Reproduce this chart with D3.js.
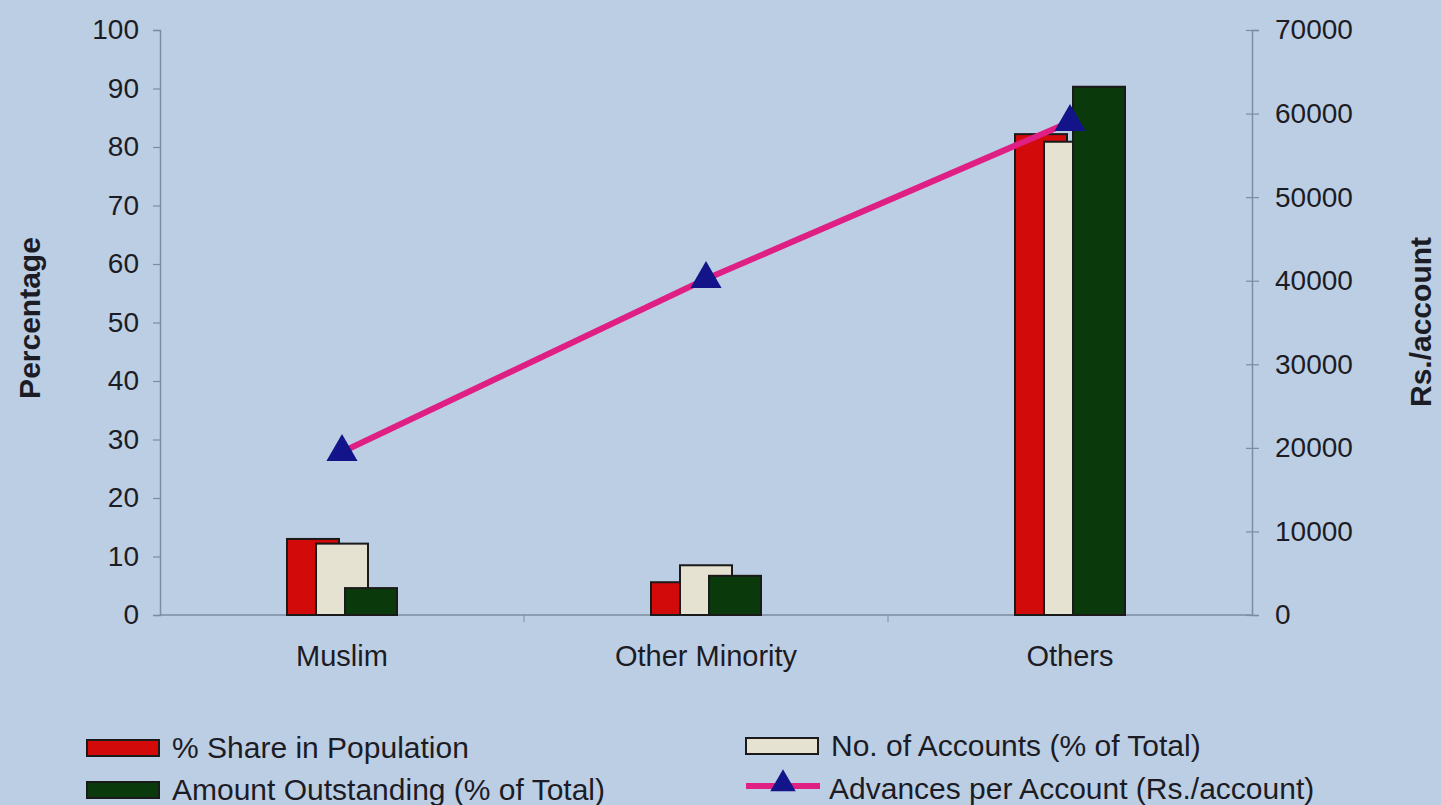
<!DOCTYPE html>
<html>
<head>
<meta charset="utf-8">
<script src="https://cdn.jsdelivr.net/npm/d3@7"></script>
<style>
  html, body { margin: 0; padding: 0; background: #bccee4; }
  svg { display: block; }
  text { font-family: "Liberation Sans", Arial, sans-serif; fill: #1c1c24; }
</style>
</head>
<body>
<svg id="chart" width="1441" height="805"></svg>
<script>
// ---- data ----
const categories = ["Muslim", "Other Minority", "Others"];
const sharePopulation = [13.0, 5.6, 82.2];
const noAccounts = [12.2, 8.5, 80.9];
const amountOutstanding = [4.6, 6.7, 90.3];
const advancesPerAccount = [19500, 40200, 59000];
const leftTicks = [0, 10, 20, 30, 40, 50, 60, 70, 80, 90, 100];
const rightTicks = [0, 10000, 20000, 30000, 40000, 50000, 60000, 70000];
const seriesNames = ["% Share in Population", "No. of Accounts (% of Total)", "Amount Outstanding (% of Total)", "Advances per Account (Rs./account)"];
const seriesColors = ["#d30a0a", "#e6e2d2", "#0a3a0c"];
const lineColor = "#df1f84";
const markerColor = "#13138a";

const svg = d3.select("#chart");
const W = 1441, H = 805;
svg.append("rect").attr("width", W).attr("height", H).attr("fill", "#bccee4");

const pLeft = 160, pRight = 1252, pTop = 30, pBottom = 615;
const x = d3.scaleBand().domain(categories).range([pLeft, pRight]).padding(0);
const yL = d3.scaleLinear().domain([0, 100]).range([pBottom, pTop]);
const yR = d3.scaleLinear().domain([0, 70000]).range([pBottom, pTop]);

const axisColor = "#7d8ca3";

// left axis
const gL = svg.append("g").attr("transform", `translate(${pLeft},0)`)
  .call(d3.axisLeft(yL).tickValues(leftTicks).tickSize(7).tickPadding(14));
// right axis
const gR = svg.append("g").attr("transform", `translate(${pRight},0)`)
  .call(d3.axisRight(yR).tickValues(rightTicks).tickFormat(d3.format("d")).tickSize(7).tickPadding(16));
gR.selectAll(".tick line").attr("x1", -6);
// bottom axis
const gB = svg.append("g").attr("transform", `translate(0,${pBottom})`)
  .call(d3.axisBottom(x).tickSize(0).tickPadding(30));
// category boundary ticks
svg.append("g").selectAll("line").data(categories.slice(1)).join("line")
  .attr("x1", d => x(d)).attr("x2", d => x(d))
  .attr("y1", pBottom).attr("y2", pBottom + 7)
  .attr("stroke", axisColor).attr("stroke-width", 1);

[gL, gR, gB].forEach(g => {
  g.selectAll(".domain").attr("stroke", axisColor).attr("stroke-width", 1.5);
  g.selectAll(".tick line").attr("stroke", axisColor).attr("stroke-width", 1.2);
  g.selectAll("text").attr("font-size", 28).attr("fill", "#1c1c24")
    .style("font-family", "'Liberation Sans', Arial, sans-serif");
});
gB.selectAll("text").attr("font-size", 29);
gB.select(".domain").attr("d", `M${pLeft},0H${pRight}`);

// axis titles
svg.append("text").attr("transform", `translate(40,318) rotate(-90)`)
  .attr("text-anchor", "middle").attr("font-size", 30).attr("font-weight", "bold")
  .text("Percentage");
svg.append("text").attr("transform", `translate(1431,322) rotate(-90)`)
  .attr("text-anchor", "middle").attr("font-size", 30).attr("font-weight", "bold")
  .text("Rs./account");

// bars
const barW = 52, barStep = 29;
const groupW = barW + 2 * barStep;
const barSeries = [sharePopulation, noAccounts, amountOutstanding];
barSeries.forEach((vals, si) => {
  svg.append("g").selectAll("rect").data(categories).join("rect")
    .attr("x", d => x(d) + x.bandwidth() / 2 - groupW / 2 + si * barStep)
    .attr("y", (d, i) => yL(vals[i]))
    .attr("width", barW)
    .attr("height", (d, i) => pBottom - yL(vals[i]))
    .attr("fill", seriesColors[si])
    .attr("stroke", "#1a1a1a").attr("stroke-width", 2);
});

// line
const line = d3.line()
  .x((d, i) => x(categories[i]) + x.bandwidth() / 2)
  .y(d => yR(d));
svg.append("path").datum(advancesPerAccount)
  .attr("d", line).attr("fill", "none")
  .attr("stroke", lineColor).attr("stroke-width", 6);
const tri = d3.symbol().type(d3.symbolTriangle).size(420);
svg.append("g").selectAll("path").data(advancesPerAccount).join("path")
  .attr("transform", (d, i) => `translate(${x(categories[i]) + x.bandwidth() / 2},${yR(d)})`)
  .attr("d", tri).attr("fill", markerColor);

// legend
const lg = svg.append("g");
const swatches = [
  { x: 87, y: 740, c: seriesColors[0], t: seriesNames[0] },
  { x: 746, y: 738, c: seriesColors[1], t: seriesNames[1] },
  { x: 87, y: 782, c: seriesColors[2], t: seriesNames[2] }
];
swatches.forEach(s => {
  lg.append("rect").attr("x", s.x).attr("y", s.y).attr("width", 72).attr("height", 16)
    .attr("fill", s.c).attr("stroke", "#1a1a1a").attr("stroke-width", 2);
  lg.append("text").attr("x", s.x + 85).attr("y", s.y + 18)
    .attr("font-size", 30).text(s.t);
});
lg.append("line").attr("x1", 746).attr("x2", 820).attr("y1", 786).attr("y2", 786)
  .attr("stroke", lineColor).attr("stroke-width", 6);
lg.append("path").attr("transform", "translate(783,784)")
  .attr("d", d3.symbol().type(d3.symbolTriangle).size(280)).attr("fill", markerColor);
lg.append("text").attr("x", 829).attr("y", 799).attr("font-size", 30).text(seriesNames[3]);
</script>
</body>
</html>
